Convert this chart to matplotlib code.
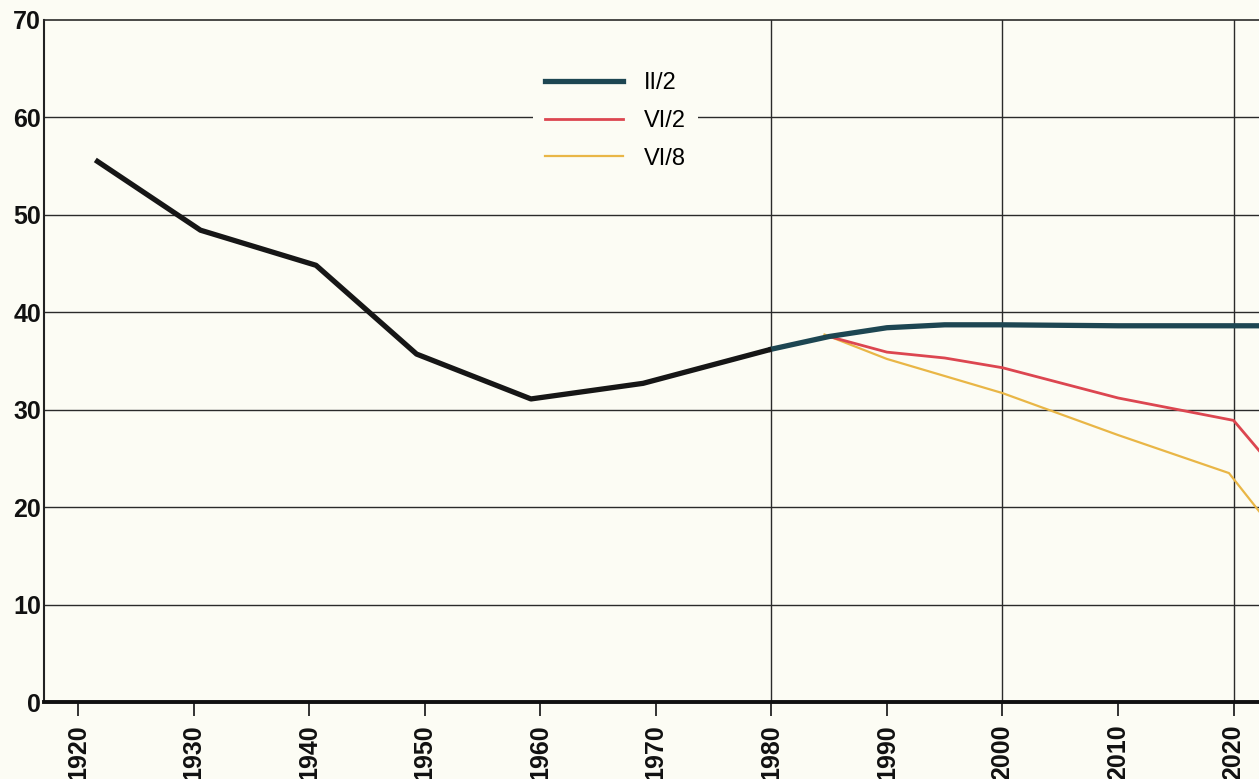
import matplotlib
matplotlib.use("Agg")
import matplotlib.pyplot as plt

# ---- data ----
base_years = [1921.5, 1930.6, 1940.6, 1949.3, 1959.2, 1968.9, 1980]
base_vals = [55.6, 48.4, 44.8, 35.7, 31.1, 32.7, 36.2]

ii2_years = [1980, 1985, 1990, 1995, 2000, 2010, 2020, 2025]
ii2_vals = [36.2, 37.5, 38.4, 38.7, 38.7, 38.6, 38.6, 38.6]

vi2_years = [1985, 1990, 1995, 2000, 2010, 2020, 2025]
vi2_vals = [37.5, 35.9, 35.3, 34.3, 31.2, 28.9, 21.9]

vi8_years = [1984.6, 1990, 2000, 2010, 2019.6, 2025]
vi8_vals = [37.7, 35.2, 31.7, 27.4, 23.5, 15.4]

x_ticks = [1920, 1930, 1940, 1950, 1960, 1970, 1980, 1990, 2000, 2010, 2020]
y_ticks = [0, 10, 20, 30, 40, 50, 60, 70]
v_grid = [1980, 2000, 2020]
legend_labels = ["II/2", "VI/2", "VI/8"]

plt.rcParams['font.family'] = ['Liberation Sans', 'DejaVu Sans']

bg = '#fcfcf4'
fig = plt.figure(figsize=(12.59, 7.79), dpi=100, facecolor=bg)
ax = fig.add_axes([44 / 1259, 1 - 702.3 / 779, 1 - 44 / 1259, (702.3 - 19.5) / 779])
ax.set_facecolor(bg)

ax.set_xlim(1917.06, 2022.2)
ax.set_ylim(0, 70)

grid_c = '#2a2a2a'
for yv in y_ticks[1:-1]:
    ax.axhline(yv, color=grid_c, lw=1.0, zorder=1)
for xv in v_grid:
    ax.axvline(xv, color=grid_c, lw=1.0, zorder=1)

ax.plot(base_years, base_vals, color='#161616', lw=3.8, solid_capstyle='butt', zorder=4)
l1, = ax.plot(ii2_years, ii2_vals, color='#1d4652', lw=3.8, zorder=3)
l2, = ax.plot(vi2_years, vi2_vals, color='#dc4650', lw=2.0, zorder=2.5)
l3, = ax.plot(vi8_years, vi8_vals, color='#e9b646', lw=1.6, zorder=2.4)

ax.spines['right'].set_visible(False)
ax.spines['top'].set_linewidth(1.2)
ax.spines['top'].set_color(grid_c)
ax.spines['left'].set_linewidth(1.5)
ax.spines['left'].set_color('#222222')
ax.spines['bottom'].set_linewidth(2.8)
ax.spines['bottom'].set_color('#111111')

ax.set_xticks(x_ticks)
ax.set_xticklabels([str(t) for t in x_ticks], rotation=90, fontsize=18, fontweight='bold')
ax.tick_params(axis='x', length=10, width=1.2, pad=6, colors='#111111')
ax.set_yticks(y_ticks)
ax.set_yticklabels([str(t) for t in y_ticks], fontsize=18, fontweight='bold')
ax.tick_params(axis='y', length=0, pad=2, colors='#111111')

leg = ax.legend([l1, l2, l3], legend_labels, loc='upper left',
                bbox_to_anchor=(0.393, 0.957), fontsize=17,
                handlelength=3.3, handletextpad=0.9, labelspacing=0.66,
                frameon=True, facecolor=bg, edgecolor='none', framealpha=1,
                borderpad=0.5, fancybox=False)
leg.set_zorder(5)

fig.savefig('out.png', dpi=100, facecolor=bg)
